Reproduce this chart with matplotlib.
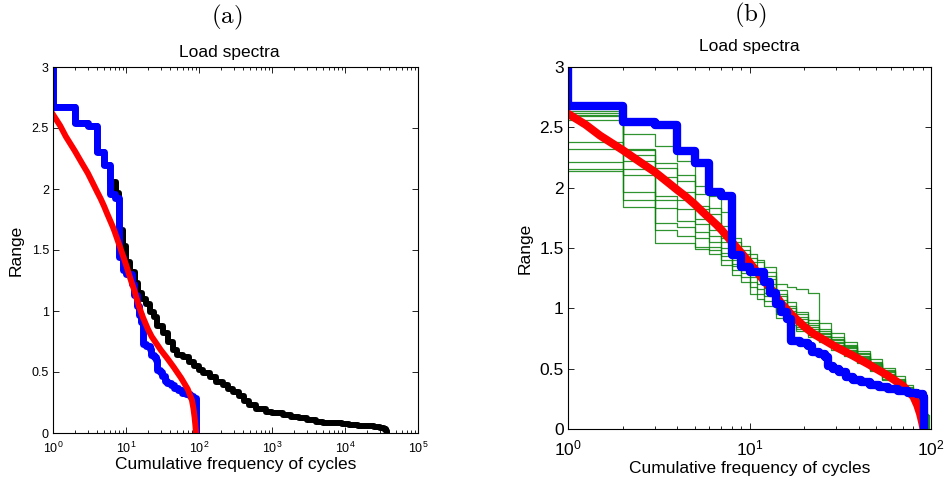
import numpy as np
import matplotlib
matplotlib.use('Agg')
import matplotlib.pyplot as plt
from matplotlib.ticker import FixedLocator, FuncFormatter, LogLocator, NullFormatter

plt.rcParams['font.family'] = ['Liberation Sans', 'DejaVu Sans']
plt.rcParams['mathtext.fontset'] = 'cm'

# sampled load spectrum (blue): cycle count where a new range level starts
blue_cycles = [1, 1, 2, 3, 4, 5, 6, 7, 8, 9, 10, 12, 13, 14, 15, 16, 17, 19, 21, 22,
               24, 26, 27, 29, 31, 34, 37, 41, 46, 52, 58, 66, 75, 84, 90, 92]
blue_range = [3.0, 2.67, 2.54, 2.52, 2.30, 2.20, 1.96, 1.93, 1.44, 1.34, 1.30, 1.22, 1.13,
              1.04, 0.97, 0.91, 0.73, 0.71, 0.69, 0.64, 0.62, 0.60, 0.52, 0.50, 0.47, 0.43,
              0.41, 0.39, 0.37, 0.35, 0.33, 0.32, 0.30, 0.29, 0.27, 0.0]

# fitted spectrum (red)
red_cycles = [1, 1.25, 1.5, 2, 2.5, 3, 3.5, 4, 4.5, 5, 5.5, 6.6, 7, 8, 9, 10, 11, 12, 13,
              15, 17, 20, 22.5, 25, 30, 37, 45, 57, 70, 80, 84, 87, 89, 90.5, 91]
red_range = [2.61, 2.52, 2.43, 2.31, 2.21, 2.13, 2.05, 1.98, 1.92, 1.86, 1.80, 1.69, 1.65,
             1.55, 1.46, 1.38, 1.30, 1.23, 1.17, 1.04, 0.95, 0.85, 0.79, 0.75, 0.68, 0.61,
             0.54, 0.45, 0.36, 0.27, 0.20, 0.13, 0.07, 0.02, 0.0]

# full measured spectrum (black)
black_cycles = [1, 1, 2, 3, 4, 5, 6, 7.2, 8, 9.1, 10.1, 11.5, 13.1, 14.5, 16.5, 19, 21, 24,
                27, 32, 38, 44, 50, 60, 72, 85, 100, 115, 140, 171, 210, 250, 290, 350,
                420, 490, 600, 820, 1000, 1400, 1800, 2340, 3000, 3950, 5000, 6670, 9000,
                11200, 15000, 19000, 25000, 30000, 34000, 37000, 38000]
black_range = [3.0, 2.67, 2.54, 2.52, 2.30, 2.20, 2.06, 1.97, 1.66, 1.53, 1.40, 1.32, 1.23,
               1.15, 1.10, 1.06, 0.99, 0.95, 0.88, 0.82, 0.75, 0.68, 0.64, 0.62, 0.58, 0.55,
               0.52, 0.49, 0.46, 0.42, 0.39, 0.36, 0.34, 0.30, 0.26, 0.23, 0.20, 0.175,
               0.16, 0.15, 0.13, 0.12, 0.105, 0.093, 0.085, 0.08, 0.072, 0.066, 0.06,
               0.057, 0.05, 0.04, 0.03, 0.015, 0.0]

# simulated spectra (green), common step counts, one row of levels per simulation
green_cycles = [1, 2, 3, 4, 5, 6, 7, 8, 9, 10, 11, 12, 14, 16, 18, 21, 24, 28, 33, 39, 46,
                54, 63, 72, 80, 86]
green_levels = [
    [2.63, 2.44, 2.34, 2.22, 2.01, 1.93, 1.80, 1.58, 1.52, 1.45, 1.40, 1.34, 1.20, 1.18, 1.16,
     1.13, 0.88, 0.80, 0.72, 0.65, 0.58, 0.51, 0.44, 0.37, 0.30, 0.22],
    [2.62, 2.32, 2.20, 2.10, 1.95, 1.83, 1.68, 1.55, 1.48, 1.42, 1.38, 1.30, 1.15, 1.05, 0.97,
     0.90, 0.83, 0.76, 0.70, 0.63, 0.56, 0.49, 0.42, 0.35, 0.29, 0.20],
    [2.60, 2.27, 2.16, 2.05, 1.85, 1.78, 1.62, 1.50, 1.45, 1.38, 1.33, 1.27, 1.12, 1.02, 0.95,
     0.88, 0.81, 0.75, 0.69, 0.62, 0.55, 0.48, 0.41, 0.34, 0.28, 0.19],
    [2.59, 2.31, 2.09, 1.96, 1.82, 1.71, 1.58, 1.47, 1.42, 1.36, 1.30, 1.24, 1.10, 1.00, 0.93,
     0.86, 0.80, 0.74, 0.68, 0.61, 0.54, 0.47, 0.40, 0.33, 0.27, 0.18],
    [2.56, 2.22, 1.93, 1.90, 1.74, 1.65, 1.55, 1.45, 1.40, 1.33, 1.28, 1.20, 1.07, 0.98, 0.91,
     0.85, 0.79, 0.72, 0.67, 0.60, 0.53, 0.46, 0.39, 0.32, 0.26, 0.17],
    [2.38, 2.15, 1.90, 1.82, 1.70, 1.60, 1.50, 1.40, 1.35, 1.30, 1.25, 1.17, 1.04, 0.95, 0.89,
     0.83, 0.77, 0.71, 0.66, 0.59, 0.52, 0.45, 0.38, 0.31, 0.25, 0.16],
    [2.32, 2.10, 1.83, 1.72, 1.63, 1.55, 1.46, 1.37, 1.32, 1.26, 1.20, 1.13, 1.00, 0.93, 0.87,
     0.81, 0.76, 0.70, 0.65, 0.58, 0.51, 0.44, 0.37, 0.30, 0.24, 0.15],
    [2.21, 1.96, 1.71, 1.67, 1.58, 1.51, 1.43, 1.35, 1.29, 1.22, 1.16, 1.10, 0.98, 0.91, 0.85,
     0.80, 0.75, 0.69, 0.64, 0.57, 0.50, 0.43, 0.36, 0.30, 0.23, 0.14],
    [2.15, 1.90, 1.65, 1.60, 1.51, 1.48, 1.40, 1.32, 1.26, 1.18, 1.12, 1.06, 0.95, 0.89, 0.83,
     0.78, 0.73, 0.68, 0.63, 0.56, 0.49, 0.42, 0.35, 0.29, 0.22, 0.13],
    [2.14, 1.84, 1.54, 1.54, 1.49, 1.45, 1.36, 1.28, 1.22, 1.12, 1.08, 1.02, 0.92, 0.86, 0.81,
     0.76, 0.72, 0.66, 0.61, 0.55, 0.48, 0.41, 0.34, 0.28, 0.21, 0.12],
]
green_end = [89, 90, 91, 92, 93, 93, 94, 95, 96, 97]

range_ticks = [0, 0.5, 1, 1.5, 2, 2.5, 3]


def style_axes(ax, xmax, tick_size, tick_pad):
    ax.set_xscale('log')
    ax.set_xlim(1, xmax)
    ax.set_ylim(0, 3)
    ax.yaxis.set_major_locator(FixedLocator(range_ticks))
    ax.yaxis.set_major_formatter(FuncFormatter(lambda v, p: '%g' % v))
    ax.xaxis.set_major_locator(LogLocator(base=10))
    ax.xaxis.set_minor_locator(LogLocator(base=10, subs=np.arange(2, 10)))
    ax.xaxis.set_minor_formatter(NullFormatter())
    ax.tick_params(which='both', direction='in', top=True, right=True, width=0.6)
    ax.tick_params(which='major', length=4, labelsize=tick_size)
    ax.tick_params(which='minor', length=2.2)
    ax.tick_params(axis='x', which='major', pad=tick_pad)
    ax.tick_params(axis='y', which='major', pad=3)
    for s in ax.spines.values():
        s.set_linewidth(0.8)


fig = plt.figure(figsize=(9.46, 4.83), dpi=100)

# (a) full spectrum with sample and fit
ax1 = fig.add_axes([53 / 946, 50 / 483, 365 / 946, 366 / 483])
ax1.plot(black_cycles, black_range, color='k', lw=4.3, drawstyle='steps-post',
         solid_joinstyle='round')
ax1.plot(blue_cycles, blue_range, color='b', lw=5.0, drawstyle='steps-post',
         solid_joinstyle='round')
ax1.plot(red_cycles, red_range, color='r', lw=4.3)
style_axes(ax1, 1e5, 9, 5.5)
ax1.text(0.484, 1 + 14 / 366, 'Load spectra', transform=ax1.transAxes,
         ha='center', va='center', fontsize=12.5)
ax1.set_xlabel('Cumulative frequency of cycles', fontsize=12.5)
ax1.xaxis.label.set_va('center')
ax1.xaxis.set_label_coords(0.5, -32 / 366)
ax1.set_ylabel('Range', fontsize=12.5)
ax1.yaxis.label.set_va('center')
ax1.yaxis.set_label_coords(-37 / 365, 0.5)

# (b) simulated spectra around the fit
ax2 = fig.add_axes([568 / 946, 53.7 / 483, 363 / 946, 362.7 / 483])
for levels, end in zip(green_levels, green_end):
    xs = green_cycles + [end]
    ys = levels + [0.0]
    ax2.plot(xs, ys, color='#0a820a', lw=0.9, alpha=0.85, drawstyle='steps-post')
ax2.plot(red_cycles, red_range, color='r', lw=5.8)
ax2.plot(blue_cycles, blue_range, color='b', lw=6.0, drawstyle='steps-post',
         solid_joinstyle='round')
style_axes(ax2, 100, 12.5, 6.5)
ax2.text(0.5, 1 + 20 / 362.7, 'Load spectra', transform=ax2.transAxes,
         ha='center', va='center', fontsize=12.5)
ax2.set_xlabel('Cumulative frequency of cycles', fontsize=12.5)
ax2.xaxis.label.set_va('center')
ax2.xaxis.set_label_coords(0.5, -38.7 / 362.7)
ax2.set_ylabel('Range', fontsize=12.5)
ax2.yaxis.label.set_va('center')
ax2.yaxis.set_label_coords(-43 / 363, 0.5)

fig.text(227 / 946, 1 - 17 / 483, r'$\mathrm{(a)}$', ha='center', va='center', fontsize=18)
fig.text(750 / 946, 1 - 15 / 483, r'$\mathrm{(b)}$', ha='center', va='center', fontsize=18)

fig.savefig('out.png', dpi=100)
